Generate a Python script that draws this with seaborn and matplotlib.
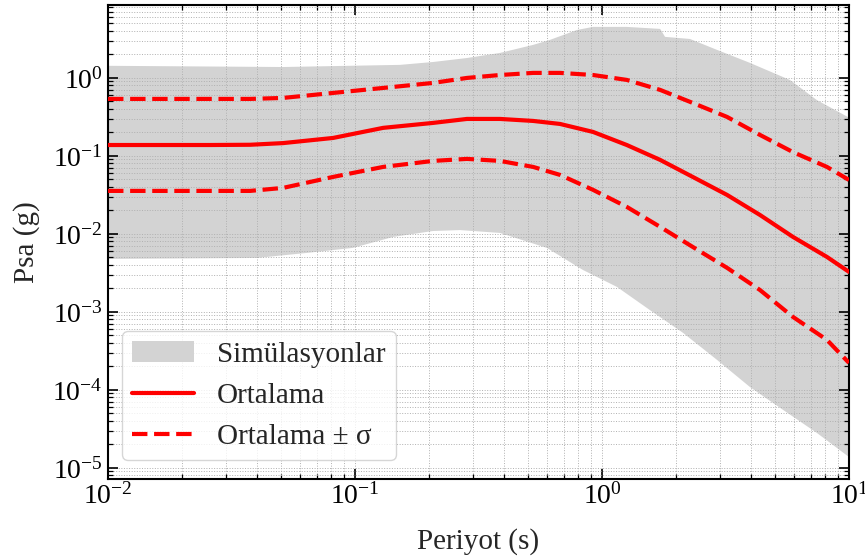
import numpy as np
import pandas as pd
import matplotlib
matplotlib.use("Agg")
import matplotlib.pyplot as plt
import seaborn as sns
from matplotlib.patches import Patch
from matplotlib.lines import Line2D
from matplotlib.ticker import LogLocator, NullFormatter

# ---- data ----
period = [0.01, 0.01625, 0.0259, 0.0376, 0.0511, 0.0815, 0.130, 0.207, 0.284,
          0.386, 0.526, 0.676, 0.920, 1.26, 1.72, 2.33, 3.21, 4.36, 5.93, 8.14, 10.0]
mean_psa = [0.138, 0.138, 0.138, 0.139, 0.146, 0.170, 0.229, 0.265, 0.298,
            0.298, 0.281, 0.257, 0.203, 0.138, 0.0889, 0.0538, 0.0316, 0.0175,
            0.00916, 0.00507, 0.00326]
upper_psa = [0.538, 0.538, 0.538, 0.538, 0.554, 0.642, 0.744, 0.863, 1.0,
             1.09, 1.16, 1.16, 1.09, 0.943, 0.702, 0.478, 0.316, 0.186,
             0.112, 0.0723, 0.0492]
lower_psa = [0.0356, 0.0356, 0.0356, 0.0356, 0.0389, 0.0538, 0.0723, 0.0863, 0.0916,
             0.0863, 0.0723, 0.0571, 0.0367, 0.0222, 0.0123, 0.00681, 0.00367,
             0.00191, 0.000863, 0.000438, 0.000222]

band_top_T = [0.01, 0.0511, 0.152, 0.207, 0.284, 0.386, 0.526, 0.615, 0.792,
              0.920, 1.26, 1.72, 1.80, 2.27, 2.92, 3.97, 5.77, 7.41, 10.0]
band_top = [1.43, 1.38, 1.47, 1.60, 1.80, 2.09, 2.65, 3.07, 4.12,
            4.51, 4.51, 4.25, 3.36, 3.16, 2.29, 1.56, 0.94, 0.52, 0.31]
band_bot_T = [0.01, 0.040, 0.064, 0.098, 0.143, 0.207, 0.266, 0.386, 0.598,
              0.837, 1.15, 1.56, 2.13, 2.92, 3.97, 5.41, 7.41, 10.0]
band_bot = [4.78e-3, 4.92e-3, 5.71e-3, 6.62e-3, 9.16e-3, 1.09e-2, 1.12e-2, 1.03e-2,
            6.62e-3, 3.45e-3, 2.09e-3, 1.06e-3, 5.38e-4, 2.43e-4, 1.09e-4,
            5.54e-5, 2.81e-5, 1.38e-5]

labels = ["Simülasyonlar", "Ortalama", "Ortalama ± σ"]

# ---- style ----
sns.set_theme(style="ticks")
plt.rcParams["font.family"] = ["Liberation Serif", "DejaVu Serif"]
plt.rcParams["mathtext.fontset"] = "stix"

df = pd.DataFrame({"T": period, "mean": mean_psa, "up": upper_psa, "lo": lower_psa})

fig = plt.figure(figsize=(8.65, 5.6), dpi=100)
ax = fig.add_axes([0.1249, 0.1446, 0.8566, 0.8464])
ax.set_xscale("log")
ax.set_yscale("log")

band_color = "#d3d3d3"
poly_x = list(band_top_T) + list(band_bot_T)[::-1]
poly_y = list(band_top) + list(band_bot)[::-1]
ax.fill(poly_x, poly_y, color=band_color, lw=0, zorder=0.3)

sns.lineplot(data=df, x="T", y="mean", ax=ax, color="red", lw=3, zorder=3)
sns.lineplot(data=df, x="T", y="up", ax=ax, color="red", lw=3, ls="--", zorder=3)
sns.lineplot(data=df, x="T", y="lo", ax=ax, color="red", lw=3, ls="--", zorder=3)

ax.set_xlim(1e-2, 1e1)
ax.set_ylim(7.2e-6, 8.6)

ax.xaxis.set_major_locator(LogLocator(base=10, numticks=10))
ax.yaxis.set_major_locator(LogLocator(base=10, numticks=10))
ax.xaxis.set_minor_locator(LogLocator(base=10, subs=np.arange(2, 10), numticks=20))
ax.yaxis.set_minor_locator(LogLocator(base=10, subs=np.arange(2, 10), numticks=20))
ax.xaxis.set_minor_formatter(NullFormatter())
ax.yaxis.set_minor_formatter(NullFormatter())

ax.set_axisbelow(True)
ax.grid(True, which="both", ls=":", color="#b0b0b0", lw=0.7)

ax.tick_params(which="both", direction="in", top=True, right=True, colors="black")
ax.tick_params(which="major", length=7, width=1.2, labelsize=20)
ax.tick_params(axis="y", which="major", pad=4)
ax.tick_params(axis="x", which="major", pad=3)
ax.tick_params(which="minor", length=3.5, width=0.9)
for s in ax.spines.values():
    s.set_linewidth(1.5)
    s.set_color("black")

ax.set_xlabel("Periyot (s)", fontsize=21, labelpad=13)
ax.set_ylabel("Psa (g)", fontsize=21, labelpad=9)

handles = [Patch(facecolor=band_color, edgecolor="none"),
           Line2D([], [], color="red", lw=3),
           Line2D([], [], color="red", lw=3, ls="--")]
leg = ax.legend(handles, labels, loc="lower left", bbox_to_anchor=(0.019, 0.04),
                borderaxespad=0, fontsize=21, handlelength=2.1, frameon=True,
                framealpha=0.8, edgecolor="#cccccc", fancybox=True,
                labelspacing=0.5, handletextpad=0.8, borderpad=0.35)
leg.set_zorder(5)

fig.savefig("out.png", dpi=100)
